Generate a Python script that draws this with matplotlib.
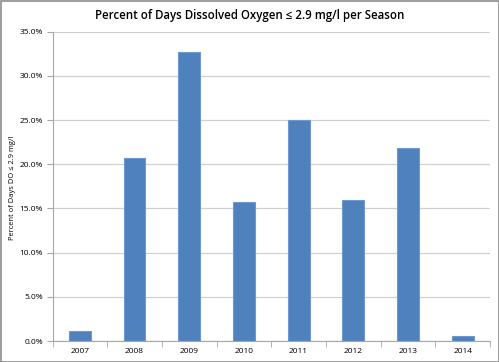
import matplotlib
matplotlib.use("Agg")
import matplotlib.pyplot as plt
from matplotlib.ticker import FuncFormatter, MultipleLocator, FixedLocator
from matplotlib.patches import Rectangle

years = ["2007", "2008", "2009", "2010", "2011", "2012", "2013", "2014"]
values = [1.1, 20.7, 32.7, 15.7, 25.0, 16.0, 21.8, 0.6]

title = "Percent of Days Dissolved Oxygen \u2264 2.9 mg/l per Season"
ylabel = "Percent of Days DO \u2264 2.9 mg/l"

plt.rcParams['font.family'] = ['Open Sans', 'DejaVu Sans']

W, H = 499, 362
fig = plt.figure(figsize=(W / 100, H / 100), dpi=100)
ax = fig.add_axes([52.5 / W, 1 - 341 / H, (490 - 52.5) / W, (341 - 31.7) / H])

x = list(range(len(years)))
ax.bar(x, values, width=0.4, color="#4F81BD", edgecolor="#6E98CF", linewidth=0.8, zorder=3)

ax.set_xlim(-0.5, len(years) - 0.5)
ax.set_ylim(0, 35)
ax.yaxis.set_major_locator(MultipleLocator(5))
ax.yaxis.set_major_formatter(FuncFormatter(lambda v, p: f"{v:.1f}%"))
ax.set_xticks(x)
ax.set_xticklabels(years)
ax.xaxis.set_minor_locator(FixedLocator([i - 0.5 for i in range(len(years) + 1)]))
ax.tick_params(axis='x', which='major', length=0, labelsize=6.0, pad=5, colors='black')
ax.tick_params(axis='x', which='minor', length=4, color='#A6A6A6', direction='out')
ax.tick_params(axis='y', length=4, color='#A6A6A6', labelsize=6.0, pad=3, labelcolor='black')

ax.grid(axis='y', color='#D0D0D0', linewidth=0.9, zorder=0)
for s in ['top', 'right']:
    ax.spines[s].set_visible(False)
ax.spines['left'].set_color('#A6A6A6')
ax.spines['bottom'].set_color('#A6A6A6')
ax.spines['left'].set_zorder(4)
ax.spines['bottom'].set_zorder(4)

fig.text(250 / W, 1 - 15 / H, title, ha='center', va='center', fontsize=8.3, fontweight='semibold')
fig.text(13 / W, 1 - 188 / H, ylabel, ha='center', va='center', rotation=90, fontsize=5.4)

fig.patches.append(Rectangle((0.5 / W, 0.5 / H), 1 - 1.0 / W, 1 - 1.0 / H, transform=fig.transFigure,
                             fill=False, edgecolor='#8C8C8C', linewidth=1.2))

fig.savefig("out.png", dpi=100)
